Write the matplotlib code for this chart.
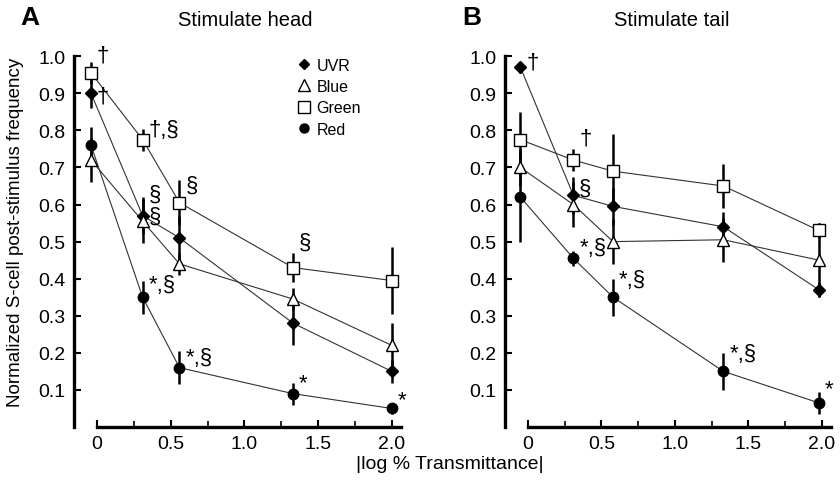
import matplotlib.pyplot as plt

plt.rcParams["font.family"] = ["Liberation Sans", "DejaVu Sans"]

# x positions (|log % transmittance|)
X_HEAD = [-0.04, 0.31, 0.56, 1.33, 2.0]
X_TAIL = [-0.05, 0.31, 0.58, 1.33, 1.98]

# Stimulate head
HEAD_UVR = [0.90, 0.57, 0.51, 0.28, 0.15]
HEAD_UVR_ERR = [0.04, 0.05, 0.06, 0.06, 0.03]
HEAD_BLUE = [0.72, 0.555, 0.44, 0.345, 0.22]
HEAD_BLUE_ERR = [0.06, 0.06, 0.03, 0.03, 0.06]
HEAD_GREEN = [0.955, 0.775, 0.605, 0.43, 0.395]
HEAD_GREEN_ERR = [0.03, 0.03, 0.06, 0.04, 0.09]
HEAD_RED = [0.76, 0.35, 0.16, 0.09, 0.05]
HEAD_RED_ERR = [0.05, 0.045, 0.045, 0.03, 0.015]

# Stimulate tail
TAIL_UVR = [0.97, 0.625, 0.595, 0.54, 0.37]
TAIL_UVR_ERR = [0.015, 0.05, 0.05, 0.04, 0.02]
TAIL_BLUE = [0.70, 0.60, 0.50, 0.505, 0.45]
TAIL_BLUE_ERR = [0.05, 0.06, 0.06, 0.06, 0.10]
TAIL_GREEN = [0.775, 0.72, 0.69, 0.65, 0.53]
TAIL_GREEN_ERR = [0.075, 0.03, 0.10, 0.06, 0.02]
TAIL_RED = [0.62, 0.455, 0.35, 0.15, 0.065]
TAIL_RED_ERR = [0.12, 0.02, 0.05, 0.05, 0.03]

# significance marks: (series, point index, text, dx, dy)
HEAD_MARKS = [
    ("green", 0, "†", 0.04, 0.02),
    ("uvr", 0, "†", 0.04, -0.035),
    ("green", 1, "†,§", 0.04, 0.0),
    ("uvr", 1, "§", 0.04, 0.03),
    ("blue", 1, "§", 0.04, -0.015),
    ("green", 2, "§", 0.04, 0.02),
    ("red", 1, "*,§", 0.04, 0.005),
    ("red", 2, "*,§", 0.04, 0.0),
    ("green", 3, "§", 0.04, 0.04),
    ("red", 3, "*", 0.04, 0.0),
    ("red", 4, "*", 0.04, -0.005),
]
TAIL_MARKS = [
    ("uvr", 0, "†", 0.04, -0.015),
    ("green", 1, "†", 0.04, 0.03),
    ("uvr", 1, "§", 0.04, -0.01),
    ("red", 1, "*,§", 0.04, 0.0),
    ("red", 2, "*,§", 0.04, 0.02),
    ("red", 3, "*,§", 0.04, 0.02),
    ("red", 4, "*", 0.04, 0.01),
]

STYLES = {
    "uvr": dict(marker="D", mfc="black", ms=6, label="UVR"),
    "blue": dict(marker="^", mfc="white", ms=9, label="Blue"),
    "green": dict(marker="s", mfc="white", ms=9, label="Green"),
    "red": dict(marker="o", mfc="black", ms=7.5, label="Red"),
}


def draw_panel(ax, x, data, marks):
    for key in ["uvr", "blue", "green", "red"]:
        y, err = data[key]
        st = STYLES[key]
        ax.plot(x, y, color="#333333", lw=0.8, zorder=1)
        ax.errorbar(x, y, yerr=err, fmt="none", ecolor="black", elinewidth=1.8,
                    capsize=0, zorder=2)
        ax.plot(x, y, linestyle="none", marker=st["marker"], ms=st["ms"],
                mfc=st["mfc"], mec="black", mew=1.0, zorder=3)
    for key, i, txt, dx, dy in marks:
        y, _ = data[key]
        ax.text(x[i] + dx, y[i] + dy, txt, fontsize=16, va="bottom", ha="left")

    ax.set_xlim(-0.156, 2.06)
    ax.set_ylim(0.0, 1.0)
    ax.set_xticks([0, 0.5, 1.0, 1.5, 2.0])
    ax.set_xticklabels(["0", "0.5", "1.0", "1.5", "2.0"])
    ax.set_xticks([0.25, 0.75, 1.25, 1.75], minor=True)
    ax.set_yticks([0.1, 0.2, 0.3, 0.4, 0.5, 0.6, 0.7, 0.8, 0.9, 1.0])
    ax.tick_params(axis="both", labelsize=14, width=1.5, length=5,
                   direction="in", pad=6)
    ax.tick_params(axis="x", which="minor", width=1.2, length=4, direction="in")
    for s in ["top", "right"]:
        ax.spines[s].set_visible(False)
    for s in ["left", "bottom"]:
        ax.spines[s].set_linewidth(2.4)
    ax.spines["bottom"].set_bounds(0, 2.06)


fig = plt.figure(figsize=(8.4, 4.85), dpi=100)
ax1 = fig.add_axes([0.088, 0.1175, 0.389, 0.7645])
ax2 = fig.add_axes([0.601, 0.1175, 0.388, 0.7645])

head = {
    "uvr": (HEAD_UVR, HEAD_UVR_ERR),
    "blue": (HEAD_BLUE, HEAD_BLUE_ERR),
    "green": (HEAD_GREEN, HEAD_GREEN_ERR),
    "red": (HEAD_RED, HEAD_RED_ERR),
}
tail = {
    "uvr": (TAIL_UVR, TAIL_UVR_ERR),
    "blue": (TAIL_BLUE, TAIL_BLUE_ERR),
    "green": (TAIL_GREEN, TAIL_GREEN_ERR),
    "red": (TAIL_RED, TAIL_RED_ERR),
}
draw_panel(ax1, X_HEAD, head, HEAD_MARKS)
draw_panel(ax2, X_TAIL, tail, TAIL_MARKS)

# legend (left panel)
handles = []
for key in ["uvr", "blue", "green", "red"]:
    st = STYLES[key]
    h, = ax1.plot([], [], linestyle="none", marker=st["marker"], ms=st["ms"] - 1,
                  mfc=st["mfc"], mec="black", mew=1.0, label=st["label"])
    handles.append(h)
ax1.legend(handles=handles, loc="upper left", bbox_to_anchor=(0.635, 1.035),
           frameon=False, fontsize=11.5, handletextpad=0.3, labelspacing=0.4,
           handlelength=1.0)

fig.text(0.024, 0.962, "A", fontsize=19, fontweight="bold", va="center")
fig.text(0.292, 0.958, "Stimulate head", fontsize=14.5, ha="center", va="center")
fig.text(0.550, 0.962, "B", fontsize=19, fontweight="bold", va="center")
fig.text(0.800, 0.958, "Stimulate tail", fontsize=14.5, ha="center", va="center")
fig.text(0.019, 0.52, "Normalized S-cell post-stimulus frequency", fontsize=13.5,
         rotation=90, ha="center", va="center")
fig.text(0.536, 0.042, "|log % Transmittance|", fontsize=14, ha="center", va="center")

fig.savefig("out.png", dpi=100)
